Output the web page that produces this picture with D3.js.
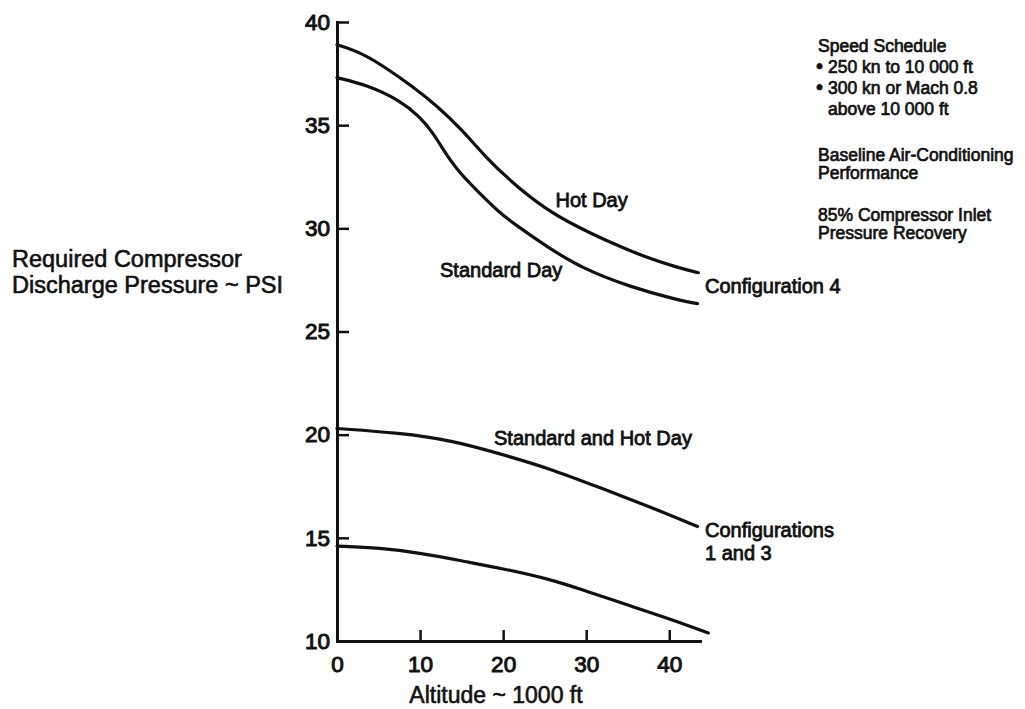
<!DOCTYPE html>
<html><head><meta charset="utf-8">
<script src="https://cdn.jsdelivr.net/npm/d3@7"></script>
<style>
body{margin:0;background:#fff}
svg text{font-family:"Liberation Sans",Arial,Helvetica,sans-serif;fill:#111}
</style>
</head><body>
<svg id="chart" width="1025" height="709"></svg>
<script>
// ---- data (altitude in 1000 ft, pressure in PSI) ----
const altHotDay = [0, 3, 6, 9, 12, 15, 18, 21, 25, 29, 33, 37, 41, 43.5];
const psiHotDay = [38.9, 38.5, 37.75, 36.9, 35.95, 34.8, 33.4, 32.25, 30.95, 30.05, 29.3, 28.62, 28.1, 27.85];

const altStdDay = [0, 3.6, 7.6, 10, 11.6, 12.8, 14.5, 16.9, 19.6, 21.2, 25.3, 29.3, 35.3, 41.3, 43.4];
const psiStdDay = [37.3, 36.95, 36.2, 35.4, 34.6, 33.8, 32.8, 31.8, 30.75, 30.25, 29.1, 28.1, 27.15, 26.5, 26.35];

const altConfig13 = [0, 7.6, 13.6, 19.6, 25.7, 31.7, 37.7, 43.4];
const psiConfig13 = [20.3, 20.08, 19.74, 19.08, 18.35, 17.42, 16.5, 15.55];

const altLower = [0, 5.2, 10.0, 15.7, 19.6, 26.0, 29.6, 35.7, 39.8, 44.7];
const psiLower = [14.6, 14.51, 14.27, 13.83, 13.54, 12.96, 12.47, 11.65, 11.11, 10.39];

const xTickValues = [0, 10, 20, 30, 40];
const yTickValues = [10, 15, 20, 25, 30, 35, 40];

const xTitle = "Altitude ~ 1000 ft";
const yTitleLines = ["Required Compressor", "Discharge Pressure ~ PSI"];
const notes = [
  ["Speed Schedule"],
  ["\u2022", "250 kn to 10 000 ft"],
  ["\u2022", "300 kn or Mach 0.8"],
  ["", "above 10 000 ft"],
  ["Baseline Air-Conditioning"],
  ["Performance"],
  ["85% Compressor Inlet"],
  ["Pressure Recovery"]
];

// ---- drawing ----
const svg = d3.select("#chart");
const x = d3.scaleLinear().domain([0, 43.7]).range([337, 700]);
const y = d3.scaleLinear().domain([10, 40]).range([641, 22]);

const xAxis = svg.append("g").attr("transform", `translate(0,${y(10)})`)
  .call(d3.axisBottom(x).tickValues(xTickValues).tickFormat(d3.format("d"))
    .tickSizeInner(-11).tickSizeOuter(0).tickPadding(15));
const yAxis = svg.append("g").attr("transform", `translate(${x(0)},0)`)
  .call(d3.axisLeft(y).tickValues(yTickValues).tickFormat(d3.format("d"))
    .tickSizeInner(-12).tickSizeOuter(0).tickPadding(7));

[xAxis, yAxis].forEach(g => {
  g.select(".domain").attr("stroke", "#111").attr("stroke-width", 3).attr("stroke-linecap", "square");
  g.selectAll(".tick line").attr("stroke", "#111").attr("stroke-width", 2.5);
  g.selectAll(".tick text").attr("font-size", 22.5).attr("fill", "#111")
    .attr("stroke", "#111").attr("stroke-width", 1.0)
    .style("font-family", '"Liberation Sans",Arial,sans-serif');
});

const line = d3.line().x(d => x(d[0])).y(d => y(d[1])).curve(d3.curveBasis);
const series = [
  [altHotDay, psiHotDay],
  [altStdDay, psiStdDay],
  [altConfig13, psiConfig13],
  [altLower, psiLower]
];
series.forEach(([a, p]) => {
  svg.append("path").datum(a.map((v, i) => [v, p[i]]))
    .attr("d", line).attr("fill", "none").attr("stroke", "#111")
    .attr("stroke-width", 3.2).attr("stroke-linecap", "round").attr("stroke-linejoin", "round");
});

function label(xp, yp, t, size, sw) {
  return svg.append("text").attr("x", xp).attr("y", yp).attr("font-size", size)
    .attr("stroke", "#111").attr("stroke-width", sw).text(t);
}

// curve labels
label(x(26.3), 207, "Hot Day", 20, 0.8);
label(x(12.4), 277, "Standard Day", 20, 0.8);
label(705, 293, "Configuration 4", 20, 0.8);
label(x(18.9), 445, "Standard and Hot Day", 20, 0.8);
label(705, 537, "Configurations", 20, 0.8);
label(705, 560, "1 and 3", 20, 0.8);

// axis titles
label(496, 703, xTitle, 23, 0.6).attr("text-anchor", "middle");
label(12, 267, yTitleLines[0], 23.5, 0.6);
label(12, 293, yTitleLines[1], 23.5, 0.6);

// notes
const noteY = [52, 73, 94, 115, 161, 179, 221, 239];
notes.forEach((n, i) => {
  if (n.length === 1) {
    label(818, noteY[i], n[0], 17.5, 0.7);
  } else {
    if (n[0]) label(816, noteY[i], n[0], 20, 0.7);
    label(828, noteY[i], n[1], 17.5, 0.7);
  }
});
</script>
</body></html>
